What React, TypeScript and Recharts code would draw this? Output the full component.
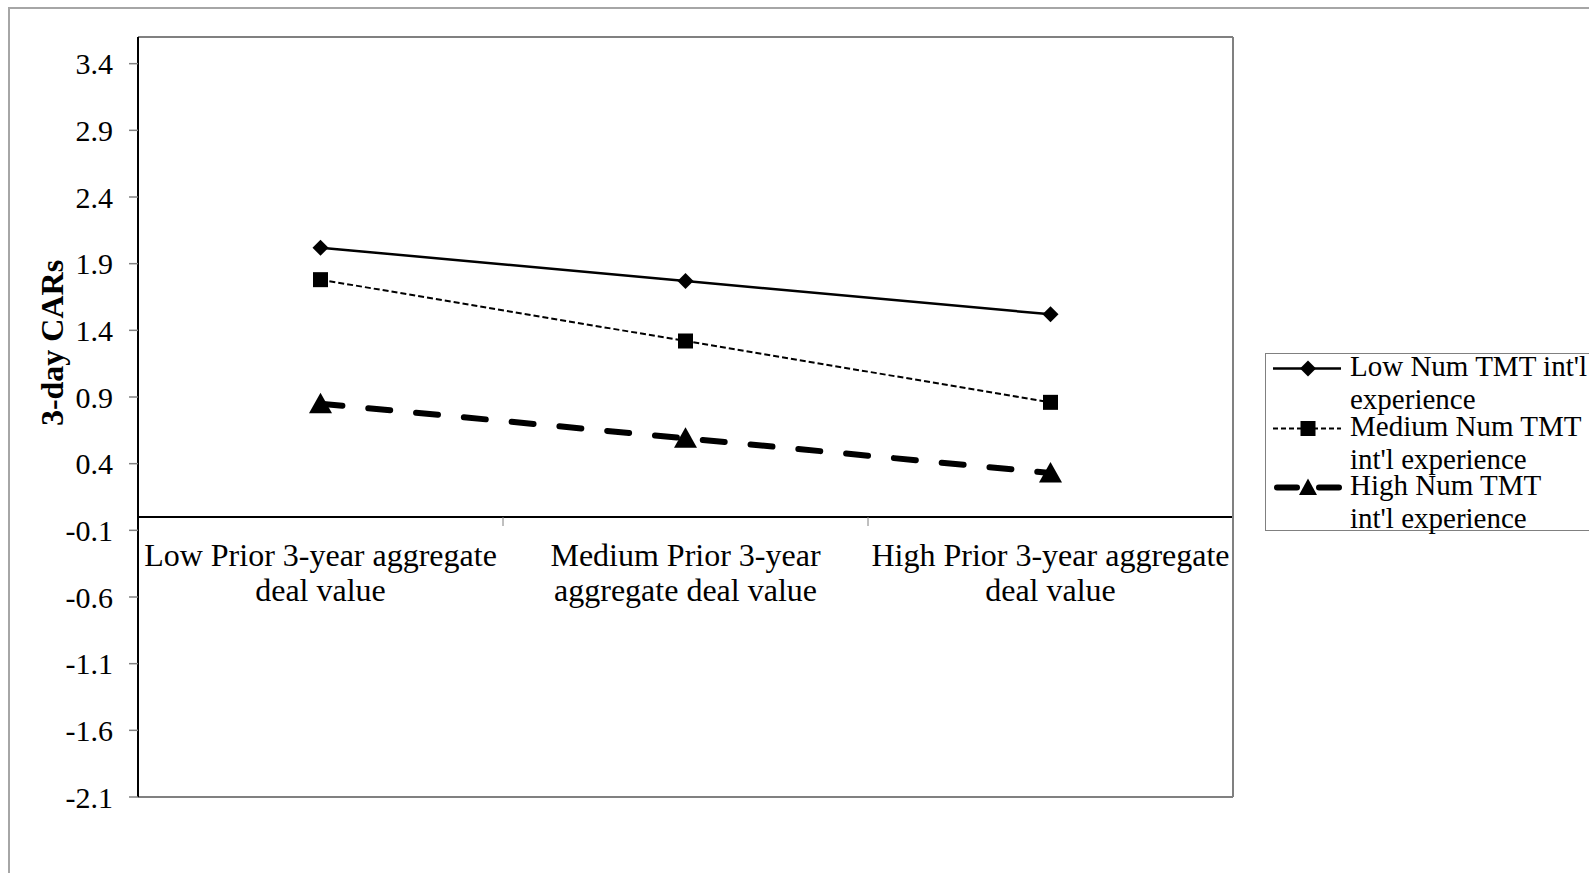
import React from "react";
import { LineChart, Line, XAxis, YAxis, ReferenceLine, Legend } from "recharts";

// categories on the x axis ("\n" = line break in the label)
const categories = [
  "Low Prior 3-year aggregate\ndeal value",
  "Medium Prior 3-year\naggregate deal value",
  "High Prior 3-year aggregate\ndeal value",
];

const lowNum = [2.02, 1.77, 1.52];
const mediumNum = [1.78, 1.32, 0.86];
const highNum = [0.85, 0.59, 0.33];

const yTicks = [-2.1, -1.6, -1.1, -0.6, -0.1, 0.4, 0.9, 1.4, 1.9, 2.4, 2.9, 3.4];
const Y_MIN = -2.1;
const Y_MAX = 3.6;

const data = categories.map((category, i) => ({
  category,
  low: lowNum[i],
  medium: mediumNum[i],
  high: highNum[i],
}));

const FONT = '"Liberation Serif", "Times New Roman", serif';
const W = 1589;
const H = 873;
const PLOT_LEFT = 138;
const PLOT_TOP = 37;
const PLOT_RIGHT = 1233;
const PLOT_BOTTOM = 797;
const BAND = (PLOT_RIGHT - PLOT_LEFT) / categories.length;
// the category axis crosses the value axis at 0
const ZERO_Y = PLOT_TOP + ((PLOT_BOTTOM - PLOT_TOP) * Y_MAX) / (Y_MAX - Y_MIN);

type Marker = "diamond" | "square" | "triangle";

const series: Array<{ key: string; name: string; marker: Marker; width: number; dash?: string }> = [
  { key: "low", name: "Low Num TMT int'l\nexperience", marker: "diamond", width: 2.5 },
  { key: "medium", name: "Medium Num TMT\nint'l experience", marker: "square", width: 2, dash: "6 3" },
  { key: "high", name: "High Num TMT\nint'l experience", marker: "triangle", width: 6, dash: "22 26" },
];

function MarkerShape({ type, cx, cy }: { type: Marker; cx: number; cy: number }) {
  if (type === "diamond") {
    return <path d={`M${cx} ${cy - 8}L${cx + 8} ${cy}L${cx} ${cy + 8}L${cx - 8} ${cy}Z`} fill="#000" />;
  }
  if (type === "square") {
    return <rect x={cx - 7.5} y={cy - 7.5} width={15} height={15} fill="#000" />;
  }
  return <path d={`M${cx} ${cy - 11}L${cx + 11.5} ${cy + 9.5}L${cx - 11.5} ${cy + 9.5}Z`} fill="#000" />;
}

function CategoryTick(props: any) {
  const { x, payload, index } = props;
  const lines = String(payload.value).split("\n");
  return (
    <g>
      {index > 0 && (
        <line x1={x - BAND / 2} x2={x - BAND / 2} y1={ZERO_Y} y2={ZERO_Y + 9} stroke="#808080" strokeWidth={1} />
      )}
      <text x={x} y={ZERO_Y} textAnchor="middle" fontFamily={FONT} fontSize={32} fill="#000">
        {lines.map((l, i) => (
          <tspan key={i} x={x} dy={i === 0 ? 49 : 35}>
            {l}
          </tspan>
        ))}
      </text>
    </g>
  );
}

function LegendContent() {
  return (
    <div style={{ position: "relative", width: "100%", height: "100%", fontFamily: FONT }}>
      {series.map((s, i) => (
        <div key={s.key} style={{ position: "absolute", left: 0, top: -4 + i * 59.5, width: 400, height: 66 }}>
          <svg width={70} height={33} style={{ position: "absolute", left: 7, top: 2 }}>
            {s.marker === "triangle" ? (
              <>
                <line x1={4} x2={24} y1={16.5} y2={16.5} stroke="#000" strokeWidth={6} strokeLinecap="round" />
                <line x1={46} x2={66} y1={16.5} y2={16.5} stroke="#000" strokeWidth={6} strokeLinecap="round" />
              </>
            ) : (
              <line
                x1={0}
                x2={68}
                y1={16.5}
                y2={16.5}
                stroke="#000"
                strokeWidth={s.marker === "diamond" ? 2.5 : 2}
                strokeDasharray={s.marker === "square" ? "5 3" : undefined}
              />
            )}
            {s.marker === "triangle" ? (
              <path d="M35 7.5L44 24L26 24Z" fill="#000" />
            ) : (
              <MarkerShape type={s.marker} cx={35} cy={16.5} />
            )}
          </svg>
          <div
            style={{
              position: "absolute",
              left: 84,
              top: 0,
              fontSize: 29,
              lineHeight: "33px",
              color: "#000",
              whiteSpace: "pre",
            }}
          >
            {s.name}
          </div>
        </div>
      ))}
    </div>
  );
}

export default function App() {
  return (
    <div style={{ position: "absolute", left: 0, top: 0, width: W, height: H, overflow: "hidden", background: "#fff" }}>
      <div
        style={{
          position: "absolute",
          left: 8,
          top: 7,
          width: W + 40,
          height: H + 40,
          border: "2px solid #a6a6a6",
          boxSizing: "border-box",
        }}
      />
      <LineChart
        width={W}
        height={H}
        data={data}
        margin={{ top: PLOT_TOP - 1, right: W - PLOT_RIGHT - 1, bottom: 0, left: 0 }}
        style={{ position: "absolute", left: 0, top: 0 }}
      >
        <XAxis
          xAxisId="top"
          orientation="top"
          dataKey="category"
          scale="band"
          height={1}
          tick={false}
          tickLine={false}
          axisLine={{ stroke: "#808080", strokeWidth: 2 }}
        />
        <XAxis
          xAxisId="bottom"
          dataKey="category"
          scale="band"
          height={H - PLOT_BOTTOM}
          interval={0}
          tickLine={false}
          axisLine={{ stroke: "#808080", strokeWidth: 2 }}
          tick={<CategoryTick />}
        />
        <YAxis
          yAxisId="left"
          width={PLOT_LEFT}
          domain={[Y_MIN, Y_MAX]}
          ticks={yTicks}
          interval={0}
          allowDataOverflow
          tickFormatter={(v: number) => v.toFixed(1)}
          tick={{ fill: "#000", fontSize: 30, fontFamily: FONT }}
          tickSize={9}
          tickMargin={16}
          tickLine={{ stroke: "#808080", strokeWidth: 1.5 }}
          axisLine={{ stroke: "#000", strokeWidth: 2 }}
          label={{
            content: () => (
              <text
                x={63}
                y={343}
                transform="rotate(-90 63 343)"
                textAnchor="middle"
                fontFamily={FONT}
                fontSize={32}
                fontWeight="bold"
                fill="#000"
              >
                3-day CARs
              </text>
            ),
          }}
        />
        <YAxis
          yAxisId="right"
          orientation="right"
          width={1}
          domain={[Y_MIN, Y_MAX]}
          tick={false}
          tickLine={false}
          axisLine={{ stroke: "#808080", strokeWidth: 2 }}
        />
        <ReferenceLine xAxisId="bottom" yAxisId="left" y={0} stroke="#000" strokeWidth={2} />
        {series.map((s) => (
          <Line
            key={s.key}
            xAxisId="bottom"
            yAxisId="left"
            type="linear"
            dataKey={s.key}
            name={s.name}
            stroke="#000"
            strokeWidth={s.width}
            strokeDasharray={s.dash}
            strokeLinecap={s.marker === "triangle" ? "round" : "butt"}
            isAnimationActive={false}
            dot={(p: any) => <MarkerShape key={`${s.key}-${p.index}`} type={s.marker} cx={p.cx} cy={p.cy} />}
            activeDot={false}
          />
        ))}
        <Legend
          layout="vertical"
          align="center"
          verticalAlign="middle"
          content={<LegendContent />}
          wrapperStyle={{
            position: "absolute",
            left: 1265,
            top: 353,
            width: 340,
            height: 178,
            border: "1px solid #808080",
            background: "#fff",
            boxSizing: "border-box",
            margin: 0,
          }}
        />
      </LineChart>
    </div>
  );
}
